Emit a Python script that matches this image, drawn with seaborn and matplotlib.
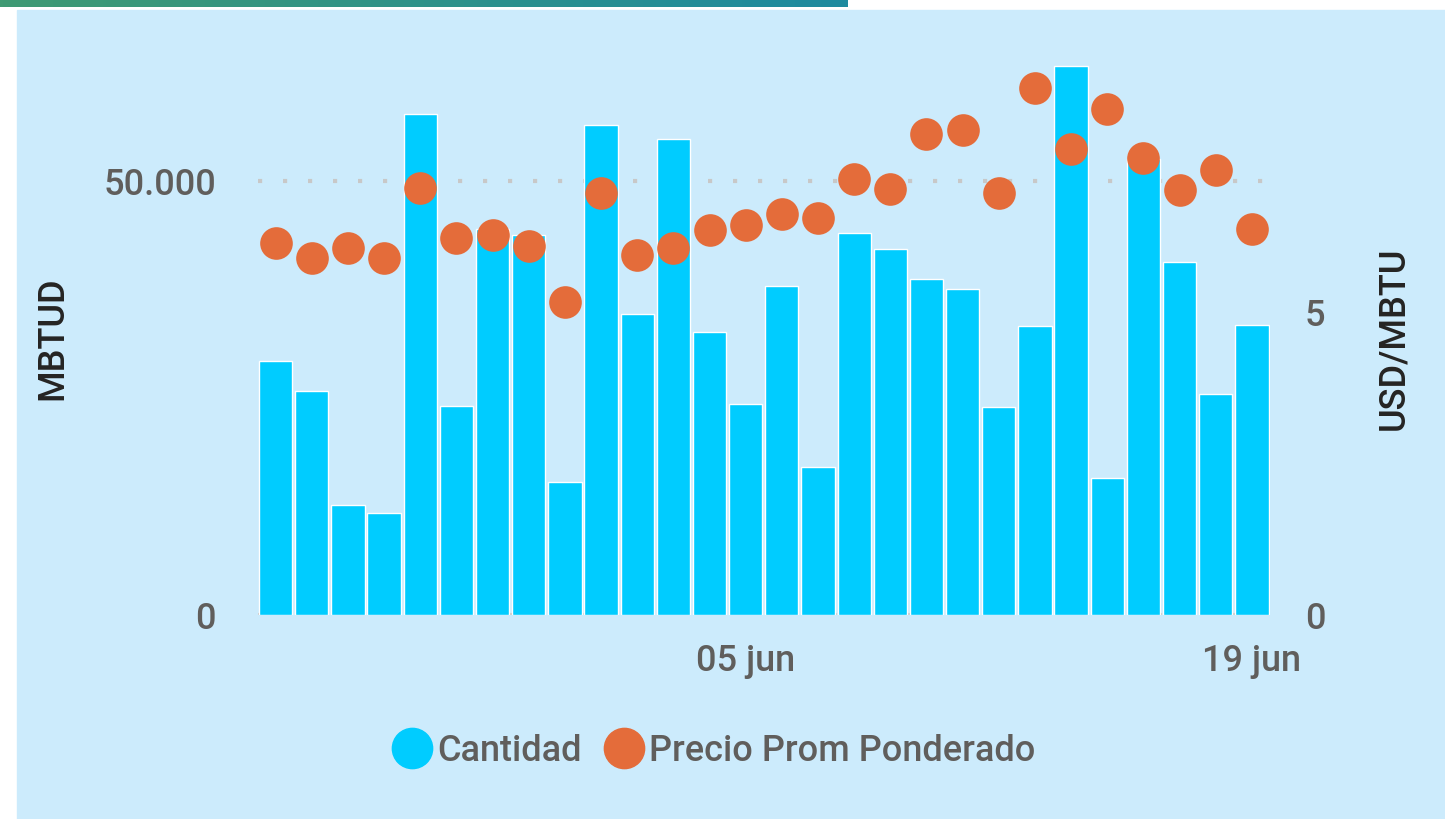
import numpy as np
import pandas as pd
import matplotlib.pyplot as plt
import seaborn as sns
from matplotlib.patches import Rectangle
from matplotlib.lines import Line2D
from matplotlib.colors import LinearSegmentedColormap

# datos (23 may - 19 jun)
fechas = pd.date_range("2023-05-23", "2023-06-19", freq="D")
cantidad = [29260, 25810, 12670, 11750, 57720, 24080, 44470, 43780, 15320, 56450,
            34680, 54840, 32600, 24310, 37900, 17050, 44010, 42170, 38710, 37560,
            23960, 33300, 63250, 15780, 52500, 40670, 25460, 33410]
precio = [6.12, 5.87, 6.04, 5.87, 7.02, 6.20, 6.25, 6.07, 5.15, 6.94,
          5.92, 6.04, 6.33, 6.41, 6.60, 6.53, 7.17, 7.01, 7.91, 7.98,
          6.94, 8.67, 7.66, 8.32, 7.52, 6.99, 7.32, 6.35]
etiquetas_x = ["05 jun", "19 jun"]
ticks_izq = [0, 50000]
ticks_izq_txt = ["0", "50.000"]
ticks_der = [0, 5]

df = pd.DataFrame({
    "fecha": fechas.strftime("%d %b").str.lower(),
    "Cantidad": cantidad,
    "Precio": precio,
})

azul = "#00CCFF"
naranja = "#E46C3A"
fondo = "#CCEBFC"
gris = "#605E5C"
oscuro = "#252423"

sns.set_style("white")
plt.rcParams["font.family"] = ["Roboto", "DejaVu Sans"]
plt.rcParams["font.weight"] = "medium"

fig = plt.figure(figsize=(14.45, 8.2), dpi=100)
fig.patch.set_facecolor("white")
fig.patches.append(Rectangle((17 / 1445, 0), 1 - 17 / 1445, 1 - 11 / 820,
                             transform=fig.transFigure, color=fondo, zorder=-5))

# barra de degradado superior
bar_ax = fig.add_axes([0, 1 - 8 / 820, 848 / 1445, 8 / 820])
grad = np.linspace(0, 1, 256).reshape(1, -1)
cmap = LinearSegmentedColormap.from_list("g", ["#3F9A73", "#1E8A9F"])
bar_ax.imshow(grad, aspect="auto", cmap=cmap)
bar_ax.axis("off")

ax = fig.add_axes([257.5 / 1445, 204 / 820, 1012.5 / 1445, 566 / 820])
ax.patch.set_alpha(0)
sns.barplot(data=df, x="fecha", y="Cantidad", color=azul, saturation=1,
            width=0.92, ax=ax)

ax2 = ax.twinx()
ax2.patch.set_alpha(0)
sns.stripplot(data=df, x="fecha", y="Precio", color=naranja, jitter=False,
              size=23.5, linewidth=0, ax=ax2)

ax.set_xlim(-0.5, len(df) - 0.5)
ax.set_ylim(0, 65200)
ax2.set_ylim(0, 9.31)

pos = [list(df.fecha).index(e) for e in etiquetas_x]
ax.set_xticks(pos)
ax.set_xticklabels(etiquetas_x)
ax.set_yticks(ticks_izq)
ax.set_yticklabels(ticks_izq_txt)
ax2.set_yticks(ticks_der)

ax.set_axisbelow(True)
ax.yaxis.grid(True, linestyle=(0, (1, 5)), linewidth=3, color="#C8C8C8")
ax.xaxis.grid(False)

for a in (ax, ax2):
    for s in a.spines.values():
        s.set_visible(False)
    a.tick_params(length=0, labelsize=26, labelcolor=gris)
ax.tick_params(axis="y", pad=30)
ax.tick_params(axis="x", pad=20)
ax2.tick_params(axis="y", pad=25)
ax2.set_xlabel("")
ax.set_xlabel("")

ax.set_ylabel("MBTUD", fontsize=26, color=oscuro, fontweight="medium")
ax.yaxis.set_label_coords(-0.185, 0.49)
ax2.set_ylabel("USD/MBTU", fontsize=26, color=oscuro, rotation=90,
               fontweight="medium")
ax2.yaxis.set_label_coords(1.105, 0.49)

handles = [Line2D([], [], marker="o", linestyle="", markersize=29, color=azul),
           Line2D([], [], marker="o", linestyle="", markersize=29, color=naranja)]
fig.legend(handles, ["Cantidad", "Precio Prom Ponderado"], loc="center",
           bbox_to_anchor=(714 / 1445, 1 - 752 / 820), ncol=2, frameon=False,
           fontsize=26, labelcolor=gris, handlelength=1.1, handletextpad=0.15,
           columnspacing=0.6)

fig.savefig("out.png", dpi=100)
